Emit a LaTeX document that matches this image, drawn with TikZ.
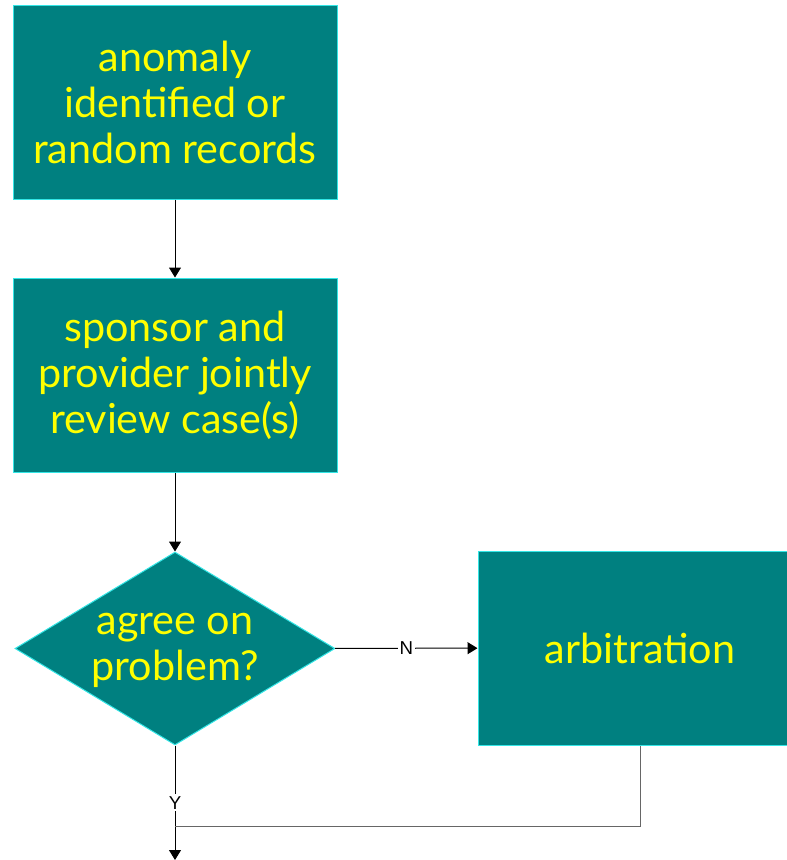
\documentclass[tikz,border=0pt]{standalone}
\usepackage{fontspec}
\setmainfont{Lato}
\newfontfamily\labelfont{Liberation Sans}
\usetikzlibrary{shapes.geometric,arrows.meta}

\definecolor{tealfill}{RGB}{0,128,128}
\definecolor{tealedge}{RGB}{51,230,230}
\definecolor{boxtext}{RGB}{255,255,0}

\tikzset{every picture/.style={line width=0.75pt}}
\tikzset{
  flowbox/.style={draw=tealedge, fill=tealfill, text=boxtext, rectangle, align=center,
    minimum width=243pt, minimum height=145.5pt, inner sep=0pt,
    font=\fontsize{31}{34.5}\selectfont},
  flowdecision/.style={draw=tealedge, fill=tealfill, text=boxtext, diamond, align=center,
    shape aspect=1.66, minimum width=240pt, minimum height=144.75pt, inner sep=0pt,
    font=\fontsize{31}{34.5}\selectfont},
  flowline/.style={draw=black, line width=0.75pt},
  flowarrow/.style={flowline, -{Triangle[length=7.5pt,width=9pt]}},
  branchlabel/.style={fill=white, inner sep=1.5pt, font=\labelfont\fontsize{14}{16}\selectfont}
}

\begin{document}
\begin{tikzpicture}[x=0.75pt,y=0.75pt,yscale=-1,xscale=1]
\useasboundingbox (0,0) rectangle (786,860);

%Process boxes
\node[flowbox] (anomaly) at (175,102) {anomaly\\identified or\\random records};
\node[flowbox] (review) at (175,375) {sponsor and\\provider jointly\\review case(s)};
%Decision
\node[flowdecision] (agree) at (175,648.5) {\raisebox{-4pt}{\begin{tabular}{@{}c@{}}agree on\\problem?\end{tabular}}};
\node[flowbox] (arbitration) at (640,648) {arbitration};

%Free ends
\coordinate (merge) at (175,826);
\coordinate (exit) at (175,860);

%Connectors
\draw[flowarrow] (anomaly) -- (review);
\draw[flowarrow] (review) -- (agree);
\draw[flowarrow] (agree) -- node[branchlabel] {N} (arbitration);
\draw[flowarrow] (agree) -- node[branchlabel, pos=0.5] {Y} (exit);
\draw[flowline, draw=black!60] (arbitration.south) |- (merge);

\end{tikzpicture}
\end{document}
